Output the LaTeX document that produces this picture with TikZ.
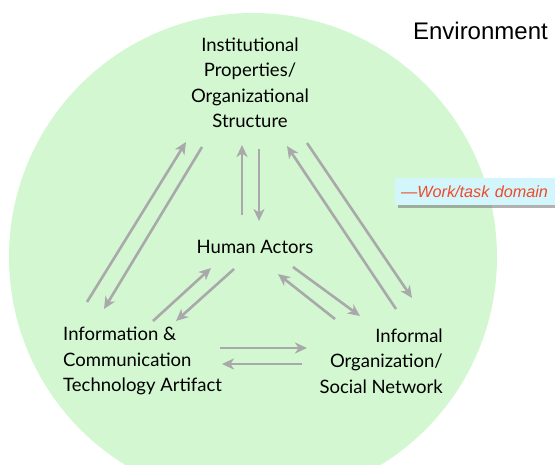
\documentclass[tikz,border=0pt]{standalone}
\usepackage{fontspec}
\setmainfont{Lato}
\newfontfamily\arialfont{Liberation Sans}
\usetikzlibrary{arrows.meta,shadows}
\definecolor{envgreen}{HTML}{D3F7D0}
\definecolor{arrowgray}{HTML}{A9A9AB}
\definecolor{notecyan}{HTML}{D2F6FB}
\definecolor{notered}{HTML}{EE4B2B}
\tikzset{
  conn/.style={draw=arrowgray, line width=2.6pt,
    -{Stealth[length=12pt,width=11pt,inset=3.5pt]}},
  label/.style={font=\fontsize{18.5}{25.5}\selectfont, inner sep=0pt},
}
\begin{document}
\begin{tikzpicture}[x=1pt,y=-1pt]
  \useasboundingbox (0,0) rectangle (555,464);
  \begin{scope}
    \clip (0,0) rectangle (555,464);
    \fill[envgreen] (253,257) circle[radius=244];
  \end{scope}

  % Environment caption and the domain note
  \node[font=\arialfont\fontsize{24}{28}\selectfont, anchor=east, inner sep=0pt]
    (env) at (548,31) {Environment};
  \node[fill=notecyan, anchor=west, minimum height=27pt, text width=160pt,
        inner sep=0pt, inner xsep=6pt,
        drop shadow={shadow xshift=2.5pt, shadow yshift=-3pt, fill=black!55, opacity=0.55},
        font=\arialfont\itshape\fontsize{16.2}{18}\selectfont, text=notered]
    (note) at (395,191.5) {—Work/task domain};

  % The four elements
  \node[label, align=center] (inst) at (250,83)
    {Institutional\\Properties/\\Organizational\\Structure};
  \node[label] (human) at (255,247) {Human Actors};
  \node[label, align=left, anchor=west] (ict) at (63,361)
    {Information \&\\Communication\\Technology Artifact};
  \node[label, align=right, anchor=east] (inf) at (443,361)
    {Informal\\Organization/\\Social Network};

  % Connector end points
  \coordinate (inst-ll) at (186,142);
  \coordinate (inst-lr) at (202,147);
  \coordinate (inst-cl) at (242,145);
  \coordinate (inst-cr) at (259,149);
  \coordinate (inst-rl) at (287,146);
  \coordinate (inst-rr) at (307,143);
  \coordinate (human-tl) at (242,215);
  \coordinate (human-tr) at (259,221);
  \coordinate (human-bl1) at (211,268);
  \coordinate (human-bl2) at (234,269);
  \coordinate (human-br1) at (278,274);
  \coordinate (human-br2) at (293,267);
  \coordinate (ict-t1) at (87,302);
  \coordinate (ict-t2) at (104,309);
  \coordinate (ict-r1) at (153,321);
  \coordinate (ict-r2) at (176,321);
  \coordinate (ict-e1) at (220,348);
  \coordinate (ict-e2) at (222,364);
  \coordinate (inf-t1) at (396,309);
  \coordinate (inf-t2) at (412,298);
  \coordinate (inf-l1) at (335,319);
  \coordinate (inf-l2) at (360,316);
  \coordinate (inf-w1) at (307,348);
  \coordinate (inf-w2) at (302,364);

  % Mutual influences
  \draw[conn] (ict-t1) -- (inst-ll);
  \draw[conn] (inst-lr) -- (ict-t2);
  \draw[conn] (human-tl) -- (inst-cl);
  \draw[conn] (inst-cr) -- (human-tr);
  \draw[conn] (inf-t1) -- (inst-rl);
  \draw[conn] (inst-rr) -- (inf-t2);
  \draw[conn] (ict-r1) -- (human-bl1);
  \draw[conn] (human-bl2) -- (ict-r2);
  \draw[conn] (inf-l1) -- (human-br1);
  \draw[conn] (human-br2) -- (inf-l2);
  \draw[conn] (ict-e1) -- (inf-w1);
  \draw[conn] (inf-w2) -- (ict-e2);
\end{tikzpicture}
\end{document}
